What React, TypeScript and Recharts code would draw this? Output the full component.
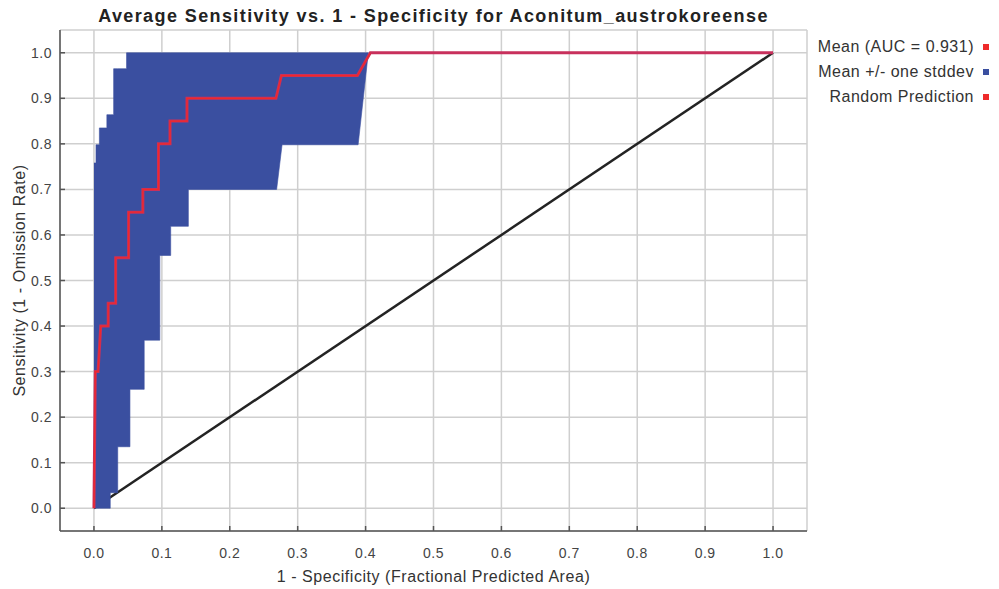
import React from 'react';
import { ComposedChart, Area, Line, XAxis, YAxis, CartesianGrid, Legend } from 'recharts';

const FONT = '"Liberation Sans", Arial, Helvetica, sans-serif';

const tickValues = [0, 0.1, 0.2, 0.3, 0.4, 0.5, 0.6, 0.7, 0.8, 0.9, 1.0];
const tickLabels = ['0.0', '0.1', '0.2', '0.3', '0.4', '0.5', '0.6', '0.7', '0.8', '0.9', '1.0'];

const chartTitle = 'Average Sensitivity vs. 1 - Specificity for Aconitum_austrokoreense';
const xTitle = '1 - Specificity (Fractional Predicted Area)';
const yTitle = 'Sensitivity (1 - Omission Rate)';

// +/- one stddev band: x, lower edge, upper edge
const bandX = [0, 0.003, 0.003, 0.008, 0.008, 0.019, 0.019, 0.024, 0.024, 0.029, 0.029, 0.035, 0.035, 0.048, 0.048, 0.053, 0.053, 0.074, 0.074, 0.097, 0.097, 0.113, 0.113, 0.139, 0.139, 0.269, 0.277, 0.389, 0.404];
const bandLow = [0, 0, 0, 0, 0, 0, 0, 0, 0.034, 0.034, 0.034, 0.034, 0.135, 0.135, 0.135, 0.135, 0.261, 0.261, 0.369, 0.369, 0.555, 0.555, 0.619, 0.619, 0.70, 0.70, 0.798, 0.798, 1.0];
const bandHigh = [0.758, 0.758, 0.798, 0.798, 0.835, 0.835, 0.864, 0.864, 0.864, 0.864, 0.965, 0.965, 0.965, 0.965, 1, 1, 1, 1, 1, 1, 1, 1, 1, 1, 1, 1, 1, 1, 1];

// Mean ROC curve
const meanX = [0, 0.002, 0.006, 0.008, 0.010, 0.021, 0.021, 0.032, 0.032, 0.051, 0.051, 0.072, 0.072, 0.095, 0.095, 0.112, 0.112, 0.137, 0.137, 0.268, 0.276, 0.388, 0.407, 1.0];
const meanY = [0, 0.30, 0.30, 0.35, 0.40, 0.40, 0.45, 0.45, 0.55, 0.55, 0.65, 0.65, 0.70, 0.70, 0.80, 0.80, 0.85, 0.85, 0.90, 0.90, 0.95, 0.95, 1.0, 1.0];
const meanInnerCount = 23;

// Random prediction diagonal
const diagX = [0, 1];
const diagY = [0, 1];

const legendLabels = ['Mean (AUC = 0.931)', 'Mean +/- one stddev', 'Random Prediction'];
const legendColors = ['#ee2a2a', '#3a4fa0', '#ee2a2a'];

const bandData = bandX.map((x, i) => ({ x, range: [bandLow[i], bandHigh[i]] }));
const meanData = meanX.map((x, i) => ({ x, y: meanY[i] }));
const meanInnerData = meanData.slice(0, meanInnerCount);
const diagData = diagX.map((x, i) => ({ x, y: diagY[i] }));

const W = 991;
const H = 581;
const DOMAIN: [number, number] = [-0.05, 1.05];
const FRAME = '#555555';
const TICK_COLOR = '#444444';

const labelOf = (v: number) => {
  const i = tickValues.findIndex((t) => Math.abs(t - v) < 1e-9);
  return i >= 0 ? tickLabels[i] : String(v);
};

const BottomTick = (p: any) => (
  <g>
    <line x1={p.x} x2={p.x} y1={p.y} y2={p.y - 5} stroke={FRAME} strokeWidth={1.5} />
    <text x={p.x} y={p.y + 27} textAnchor="middle" fontSize={14} letterSpacing={0.5} fill={TICK_COLOR} fontFamily={FONT}>
      {labelOf(p.payload.value)}
    </text>
  </g>
);

const LeftTick = (p: any) => (
  <g>
    <line x1={p.x} x2={p.x + 5} y1={p.y} y2={p.y} stroke={FRAME} strokeWidth={1.5} />
    <text x={p.x - 8} y={p.y + 5} textAnchor="end" fontSize={14} letterSpacing={0.5} fill={TICK_COLOR} fontFamily={FONT}>
      {labelOf(p.payload.value)}
    </text>
  </g>
);

const TopTick = (p: any) => (
  <line x1={p.x} x2={p.x} y1={p.y} y2={p.y + 5} stroke={FRAME} strokeWidth={1.5} />
);

const RightTick = (p: any) => (
  <line x1={p.x - 5} x2={p.x} y1={p.y} y2={p.y} stroke={FRAME} strokeWidth={1.5} />
);

const XTitleLabel = (p: any) => {
  const vb = p.viewBox;
  return (
    <text x={vb.x + vb.width / 2} y={vb.y + 51} textAnchor="middle" fontSize={16} letterSpacing={0.55} fill="#333333" fontFamily={FONT}>
      {xTitle}
    </text>
  );
};

const YTitleLabel = (p: any) => {
  const vb = p.viewBox;
  const cx = vb.x + 12;
  const cy = vb.y + vb.height / 2;
  return (
    <text x={cx} y={cy} dy={5} transform={`rotate(-90 ${cx} ${cy})`} textAnchor="middle" fontSize={16} letterSpacing={0.55} fill="#333333" fontFamily={FONT}>
      {yTitle}
    </text>
  );
};

const LegendBox = () => (
  <div style={{ fontFamily: FONT }}>
    {legendLabels.map((label, i) => (
      <div key={label} style={{ display: 'flex', justifyContent: 'flex-end', alignItems: 'center', height: 25 }}>
        <span style={{ fontSize: 16, letterSpacing: 0.5, color: '#333333', whiteSpace: 'nowrap' }}>{label}</span>
        <span style={{ display: 'inline-block', width: 6, height: 6, marginLeft: 9, background: legendColors[i] }} />
      </div>
    ))}
  </div>
);

export default function App() {
  return (
    <div style={{ width: W, height: H, position: 'relative' }}>
      <div
        style={{
          position: 'absolute',
          left: 52,
          top: -1,
          width: 747,
          textAlign: 'center',
          fontFamily: FONT,
          fontSize: 18,
          lineHeight: '18px',
          fontWeight: 'bold',
          letterSpacing: 1.4,
          color: '#222222',
          whiteSpace: 'nowrap',
          zIndex: 2,
        }}
      >
        {chartTitle}
      </div>
      <ComposedChart width={W} height={H} margin={{ top: 22, right: 192, bottom: 0, left: 0 }}>
        <CartesianGrid stroke="#cfcfcf" strokeWidth={1.5} />
        <XAxis
          type="number"
          dataKey="x"
          domain={DOMAIN}
          allowDataOverflow
          ticks={tickValues}
          interval={0}
          height={58}
          tickSize={0}
          tickMargin={0}
          tickLine={false}
          axisLine={{ stroke: FRAME, strokeWidth: 1.5 }}
          tick={BottomTick}
          label={XTitleLabel}
        />
        <YAxis
          type="number"
          domain={DOMAIN}
          allowDataOverflow
          ticks={tickValues}
          interval={0}
          width={52}
          tickSize={0}
          tickMargin={0}
          tickLine={false}
          axisLine={{ stroke: FRAME, strokeWidth: 1.5 }}
          tick={LeftTick}
          label={YTitleLabel}
        />
        <XAxis
          xAxisId="top"
          orientation="top"
          type="number"
          dataKey="x"
          domain={DOMAIN}
          allowDataOverflow
          ticks={tickValues}
          interval={0}
          height={0}
          tickSize={0}
          tickMargin={0}
          tickLine={false}
          axisLine={{ stroke: FRAME, strokeWidth: 1.5 }}
          tick={TopTick}
        />
        <YAxis
          yAxisId="right"
          orientation="right"
          type="number"
          domain={DOMAIN}
          allowDataOverflow
          ticks={tickValues}
          interval={0}
          width={0}
          tickSize={0}
          tickMargin={0}
          tickLine={false}
          axisLine={{ stroke: FRAME, strokeWidth: 1.5 }}
          tick={RightTick}
        />
        <Area
          data={diagData}
          dataKey="y"
          type="linear"
          stroke="#232323"
          strokeWidth={2.5}
          fill="none"
          dot={false}
          activeDot={false}
          isAnimationActive={false}
        />
        <Area
          data={bandData}
          dataKey="range"
          type="linear"
          stroke="#3a4fa0"
          strokeWidth={0.6}
          fill="#3a4fa0"
          fillOpacity={1}
          dot={false}
          activeDot={false}
          isAnimationActive={false}
        />
        <Line
          data={meanData}
          dataKey="y"
          type="linear"
          stroke="#c8305c"
          strokeWidth={3}
          dot={false}
          activeDot={false}
          isAnimationActive={false}
        />
        <Line
          data={meanInnerData}
          dataKey="y"
          type="linear"
          stroke="#f02828"
          strokeWidth={1.2}
          dot={false}
          activeDot={false}
          isAnimationActive={false}
        />
        <Legend
          layout="vertical"
          align="center"
          verticalAlign="middle"
          wrapperStyle={{ left: 760, top: 26, width: 221 }}
          content={LegendBox}
        />
      </ComposedChart>
    </div>
  );
}
